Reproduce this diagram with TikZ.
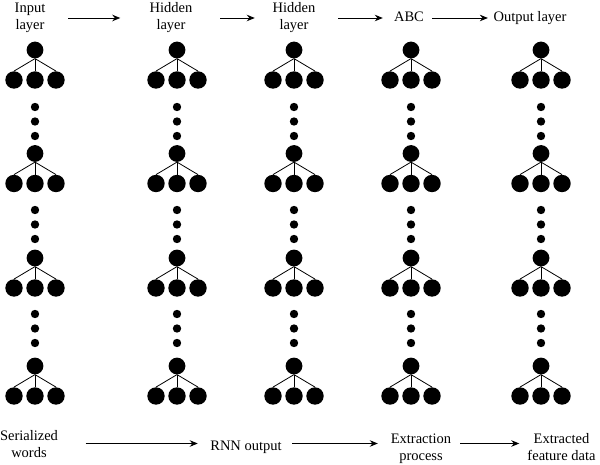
\documentclass[tikz,border=0pt]{standalone}
\usepackage{fontspec}
\setmainfont{Liberation Serif}
\usetikzlibrary{arrows.meta}
\begin{document}
\begin{tikzpicture}[x=1pt,y=-1pt,
  topn/.style={circle,fill=black,inner sep=0pt,minimum size=16.8pt},
  botn/.style={circle,fill=black,inner sep=0pt,minimum size=17.4pt},
  dotn/.style={circle,fill=black,inner sep=0pt,minimum size=8.4pt},
  edge/.style={line width=0.8pt},
  arr/.style={line width=0.9pt,-{Stealth[length=8pt,width=6.5pt]}},
  lbl/.style={inner sep=0pt,align=center,font=\fontsize{14.5}{17.5}\selectfont}]
\useasboundingbox (0,0) rectangle (600,465);
\foreach \c/\x in {1/35,2/177,3/294,4/411,5/541}{
  \foreach \g/\y in {1/50,2/153.5,3/258,4/366}{
    \node[topn] (t\c\g) at (\x,\y) {};
    \node[botn] (b\c\g-1) at (\x-21,\y+30) {};
    \node[botn] (b\c\g-2) at (\x,\y+30) {};
    \node[botn] (b\c\g-3) at (\x+21,\y+30) {};
    \draw[edge] (t\c\g.south) -- (b\c\g-1.north);
    \draw[edge] (t\c\g.south) -- (b\c\g-2.north);
    \draw[edge] (t\c\g.south) -- (b\c\g-3.north);
  }
  \foreach \g/\y in {1/107,2/210,3/314}{
    \node[dotn] (d\c\g-1) at (\x,\y) {};
    \node[dotn] (d\c\g-2) at (\x,\y+14.5) {};
    \node[dotn] (d\c\g-3) at (\x,\y+29) {};
  }
}
\node[lbl] (in) at (30,17.6) {Input\\layer};
\node[lbl] (h1) at (171,17.6) {Hidden\\layer};
\node[lbl] (h2) at (294,17.6) {Hidden\\layer};
\node[lbl,anchor=base] (abc) at (409,21.7) {ABC};
\node[lbl,anchor=base] (out) at (530,21.5) {Output layer};
\node[lbl] (ser) at (29,444) {Serialized\\words};
\node[lbl,anchor=base] (rnn) at (246,450) {RNN output};
\node[lbl] (ext) at (421,448.5) {Extraction\\process};
\node[lbl] (efd) at (561.5,447) {Extracted\\feature data};
\coordinate (trow) at (0,18);
\coordinate (brow) at (0,443.5);
\draw[arr,shorten <=22.5pt,shorten >=29.2pt] (in.east |- trow) -- (h1.west |- trow);
\draw[arr,shorten <=27.7pt,shorten >=17.7pt] (h1.east |- trow) -- (h2.west |- trow);
\draw[arr,shorten <=22.7pt,shorten >=11.1pt] (h2.east |- trow) -- (abc.west |- trow);
\draw[arr,shorten <=8.1pt,shorten >=5.5pt] (abc.east |- trow) -- (out.west |- trow);
\draw[arr,shorten <=27.5pt,shorten >=12.4pt] (ser.east |- brow) -- (rnn.west |- brow);
\draw[arr,shorten <=10.4pt,shorten >=12.8pt] (rnn.east |- brow) -- (ext.west |- brow);
\draw[arr,shorten <=8.8pt,shorten >=8pt] (ext.east |- brow) -- (efd.west |- brow);
\end{tikzpicture}
\end{document}
